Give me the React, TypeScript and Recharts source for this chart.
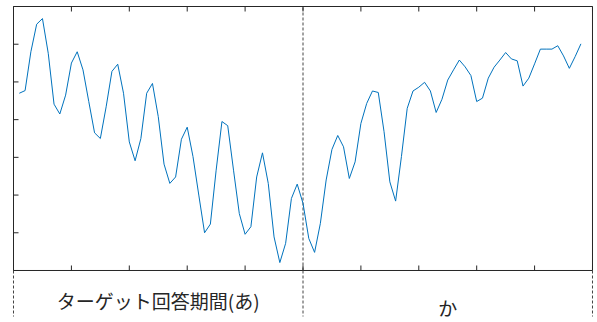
import { LineChart, Line, XAxis, YAxis, ReferenceLine } from 'recharts';

// weekly index, one value per step (steps 1..98 on a 0..100 axis)
const values = [
  4.7, 4.77, 5.8, 6.53, 6.68, 5.76, 4.41, 4.15, 4.65, 5.5,
  5.8, 5.32, 4.48, 3.65, 3.5, 4.34, 5.28, 5.47, 4.7, 3.41,
  2.91, 3.5, 4.7, 4.96, 4.08, 2.82, 2.31, 2.48, 3.48, 3.8,
  3.02, 2.0, 1.0, 1.23, 2.66, 3.95, 3.84, 2.66, 1.51, 0.96,
  1.16, 2.48, 3.12, 2.31, 0.89, 0.21, 0.72, 1.91, 2.29, 1.78,
  0.85, 0.48, 1.25, 2.4, 3.21, 3.58, 3.28, 2.44, 2.88, 3.9,
  4.43, 4.76, 4.72, 3.68, 2.35, 1.84, 3.02, 4.3, 4.76, 4.86,
  4.99, 4.76, 4.19, 4.54, 5.05, 5.32, 5.58, 5.4, 5.17, 4.48,
  4.57, 5.1, 5.39, 5.58, 5.78, 5.61, 5.56, 4.89, 5.1, 5.48,
  5.87, 5.87, 5.87, 5.96, 5.69, 5.36, 5.67, 6.01,
];

const xTicks = [0, 10, 20, 30, 40, 50, 60, 70, 80, 90, 100];
const yTicks = [0, 1, 2, 3, 4, 5, 6, 7];

// period boundaries and the label drawn in the middle of each period
const periodBounds = [0, 50, 100];
const periodCenters = [25, 75];
const periodLabels = ['ターゲット回答期間(あ)', 'か'];

const data = values.map((v, i) => ({ t: i + 1, v }));

const AXIS = '#262626';
const LINE = '#0072BD';
const DASH = '#444';
const TICK = 5;
const THIN = 0.01; // axes that only draw a line must still have a size

// inward tick marks, one renderer per side of the box
const BottomTick = ({ x, y }: any) => <line x1={x} y1={y} x2={x} y2={y - TICK} stroke={AXIS} />;
const TopTick = ({ x, y }: any) => <line x1={x} y1={y} x2={x} y2={y + TICK} stroke={AXIS} />;
const LeftTick = ({ x, y }: any) => <line x1={x} y1={y} x2={x + TICK} y2={y} stroke={AXIS} />;
const RightTick = ({ x, y }: any) => <line x1={x} y1={y} x2={x - TICK} y2={y} stroke={AXIS} />;

function PeriodTick(props: any) {
  const { x, y, payload } = props;
  const value = payload.value;
  if (periodBounds.includes(value)) {
    return <line x1={x} y1={y} x2={x} y2={y + 46} stroke={DASH} strokeDasharray="3 2" />;
  }
  const idx = periodCenters.indexOf(value);
  if (idx < 0) return null;
  const dy = idx === 0 ? 38 : 45;
  return (
    <text
      x={x}
      y={y + dy}
      textAnchor="middle"
      fill={AXIS}
      fontSize={19}
      fontFamily='"Noto Sans CJK JP", "Noto Sans", sans-serif'
    >
      {periodLabels[idx]}
    </text>
  );
}

const flatAxis = {
  type: 'number' as const,
  interval: 0 as const,
  tickLine: false,
  tickSize: 0,
  tickMargin: 0,
  stroke: AXIS,
};

export default function App() {
  return (
    <div style={{ position: 'absolute', left: 0, top: 0, width: 597, height: 322, background: '#fff' }}>
      <LineChart width={597} height={322} data={data} margin={{ top: 6.5, right: 4.5, bottom: 0, left: 13.5 }}>
        <XAxis xAxisId="main" dataKey="t" domain={[0, 100]} ticks={xTicks} height={THIN} tick={<BottomTick />} {...flatAxis} />
        <XAxis
          xAxisId="period"
          dataKey="t"
          domain={[0, 100]}
          ticks={[...periodBounds, ...periodCenters].sort((a, b) => a - b)}
          height={51.5}
          axisLine={false}
          tick={<PeriodTick />}
          {...flatAxis}
        />
        <XAxis xAxisId="top" orientation="top" dataKey="t" domain={[0, 100]} ticks={xTicks} height={THIN} tick={<TopTick />} {...flatAxis} />
        <YAxis yAxisId="left" domain={[0, 7]} ticks={yTicks} width={THIN} tick={<LeftTick />} {...flatAxis} />
        <YAxis yAxisId="right" orientation="right" domain={[0, 7]} ticks={yTicks} width={THIN} tick={<RightTick />} {...flatAxis} />
        <ReferenceLine xAxisId="main" yAxisId="left" x={50} stroke={DASH} strokeDasharray="3 2" />
        <Line
          xAxisId="main"
          yAxisId="left"
          dataKey="v"
          type="linear"
          stroke={LINE}
          strokeWidth={1}
          dot={false}
          isAnimationActive={false}
        />
      </LineChart>
    </div>
  );
}
